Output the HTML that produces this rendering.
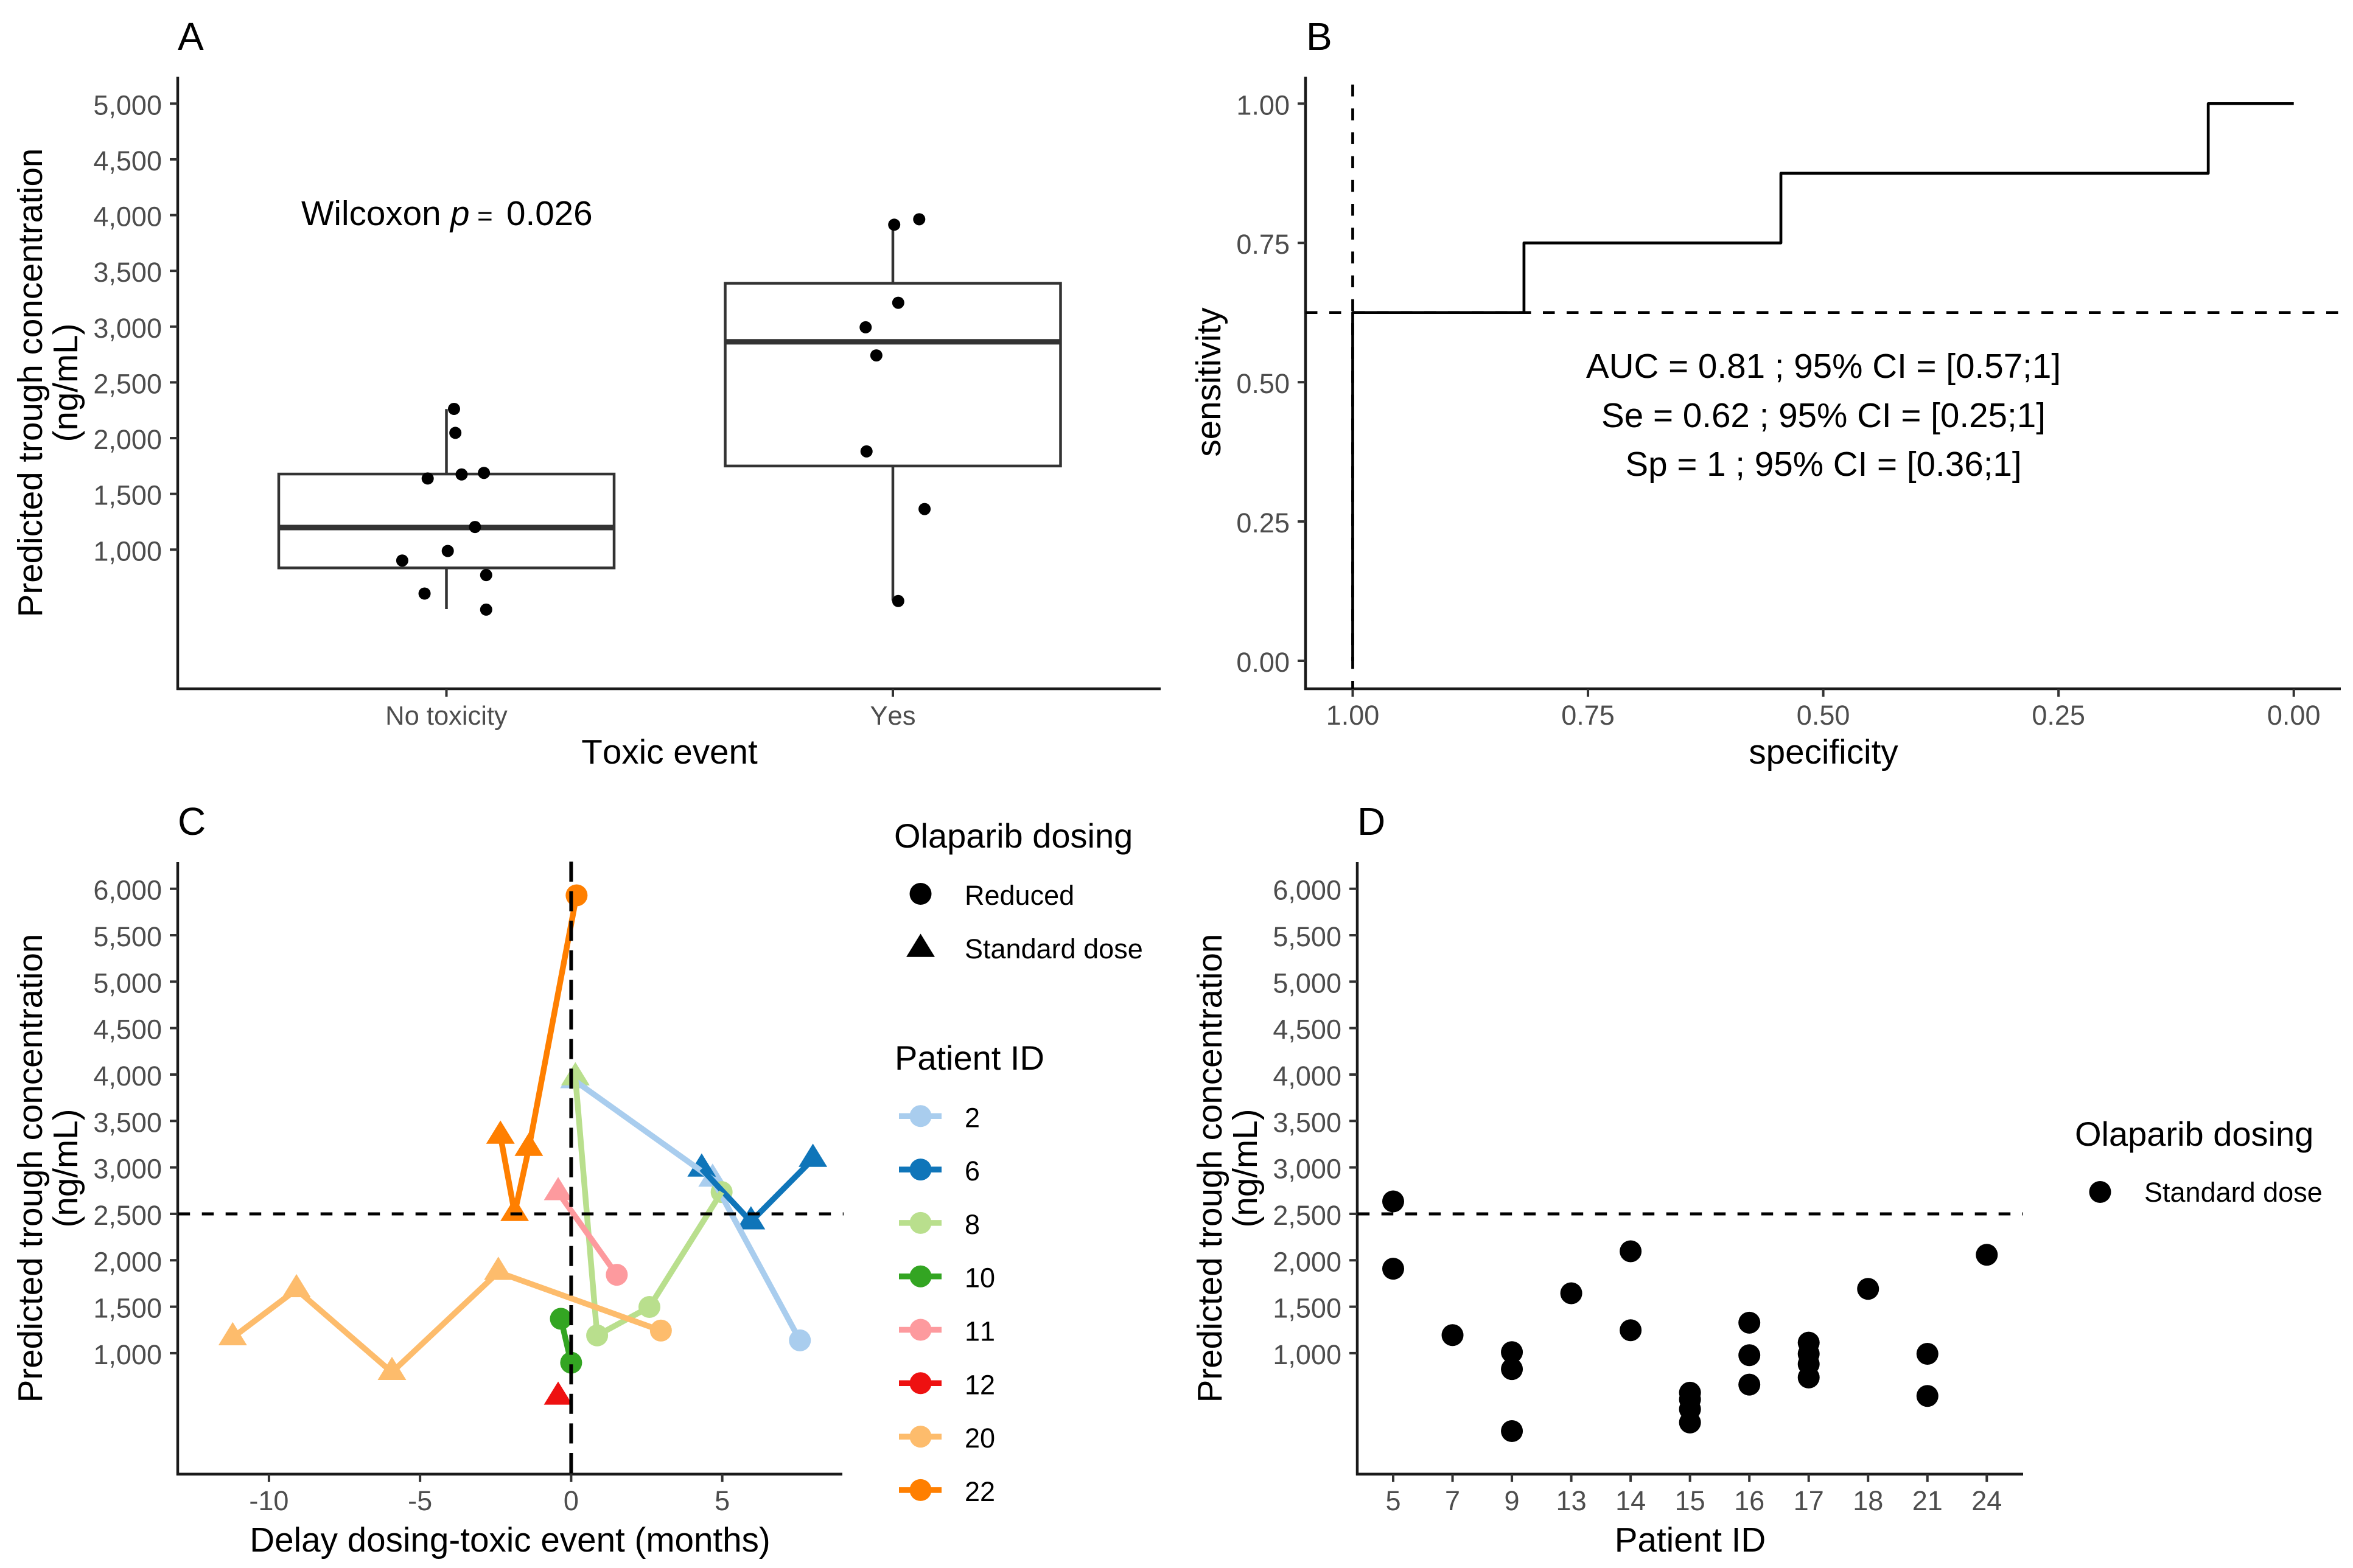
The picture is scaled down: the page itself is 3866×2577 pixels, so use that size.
<!DOCTYPE html>
<html lang="en">
<head>
<meta charset="utf-8">
<title>Olaparib trough concentration figure</title>
<style>
html,body{margin:0;padding:0;background:#fff;}
svg{display:block;font-family:"Liberation Sans",Arial,sans-serif;font-kerning:none;}
.tick{font-size:45px;fill:#4d4d4d;}
.tick-narrow{font-size:43.5px;fill:#4d4d4d;}
.title{font-size:56.6px;fill:#000;}
.legend-title{font-size:56px;fill:#000;}
.tag{font-size:64px;fill:#000;}
.leg{font-size:45px;fill:#000;}
</style>
</head>
<body>
<svg id="fig" xmlns="http://www.w3.org/2000/svg" width="3866" height="2577" viewBox="0 0 3866 2577">
<rect width="3866" height="2577" fill="#fff"/>
<g id="panelA"></g>
<g id="panelB"></g>
<g id="panelC"></g>
<g id="panelD"></g>

<text class="tag" x="292" y="82">A</text>
<text class="tag" x="2146" y="82">B</text>
<text class="tag" x="292" y="1372">C</text>
<text class="tag" x="2230" y="1372">D</text>

<text class="title" text-anchor="middle" transform="translate(69,629) rotate(-90)">Predicted trough concentration</text>
<text class="title" text-anchor="middle" transform="translate(127,629) rotate(-90)">(ng/mL)</text>
<text class="title" text-anchor="middle" x="1100" y="1255">Toxic event</text>
<text class="title" y="370"><tspan x="495">Wilcoxon</tspan><tspan x="740" font-style="italic">p</tspan><tspan x="784" font-size="44">=</tspan><tspan x="832">0.026</tspan></text>

<text class="title" text-anchor="middle" transform="translate(2005,628) rotate(-90)">sensitivity</text>
<text class="title" text-anchor="middle" x="2996" y="1255">specificity</text>
<text class="title" text-anchor="middle" x="2996" y="621">AUC = 0.81 ; 95% CI = [0.57;1]</text>
<text class="title" text-anchor="middle" x="2996" y="702">Se = 0.62 ; 95% CI = [0.25;1]</text>
<text class="title" text-anchor="middle" x="2996" y="782">Sp = 1 ; 95% CI = [0.36;1]</text>

<text class="title" text-anchor="middle" transform="translate(69,1920) rotate(-90)">Predicted trough concentration</text>
<text class="title" text-anchor="middle" transform="translate(127,1920) rotate(-90)">(ng/mL)</text>
<text class="title" text-anchor="middle" x="838" y="2550">Delay dosing-toxic event (months)</text>
<text class="legend-title" x="1469" y="1393">Olaparib dosing</text>
<text class="legend-title" x="1470" y="1758">Patient ID</text>
<text class="leg" x="1585" y="1487">Reduced</text>
<text class="leg" x="1585" y="1575">Standard dose</text>

<text class="title" text-anchor="middle" transform="translate(2007,1920) rotate(-90)">Predicted trough concentration</text>
<text class="title" text-anchor="middle" transform="translate(2065,1920) rotate(-90)">(ng/mL)</text>
<text class="title" text-anchor="middle" x="2777" y="2550">Patient ID</text>
<text class="legend-title" x="3409" y="1883">Olaparib dosing</text>
<text class="leg" x="3523" y="1975">Standard dose</text>
</svg>
<script>
// ---------- Panel A data ----------
var boxCategories = ["No toxicity", "Yes"];
var boxQ1 = [836, 1750];
var boxMedian = [1198, 2864];
var boxQ3 = [1678, 3389];
var whiskerLow = [467, 543];
var whiskerHigh = [2261, 3909];
var jitterNoTox = [0.017, 0.020, -0.042, 0.034, 0.084, 0.064, 0.003, -0.099, 0.089, -0.049, 0.089];
var valuesNoTox = [2262, 2047, 1638, 1674, 1688, 1203, 988, 902, 772, 606, 462];
var jitterYes = [0.003, 0.059, 0.012, -0.061, -0.037, -0.059, 0.071, 0.012];
var valuesYes = [3914, 3963, 3214, 2994, 2742, 1881, 1364, 539];
var tickValuesA = [1000, 1500, 2000, 2500, 3000, 3500, 4000, 4500, 5000];
var tickLabelsA = ["1,000", "1,500", "2,000", "2,500", "3,000", "3,500", "4,000", "4,500", "5,000"];

// ---------- Panel B data ----------
var rocSpecificity = [1, 1, 0.818, 0.818, 0.545, 0.545, 0.0909, 0.0909, 0];
var rocSensitivity = [0, 0.625, 0.625, 0.75, 0.75, 0.875, 0.875, 1, 1];
var cutoffSpecificity = 1;
var cutoffSensitivity = 0.625;
var tickValuesB = [0, 0.25, 0.5, 0.75, 1];
var tickLabelsB = ["0.00", "0.25", "0.50", "0.75", "1.00"];

// ---------- Panel C data ----------
var patientIds = ["2", "6", "8", "10", "11", "12", "20", "22"];
var patientColors = ["#a9cdee", "#0f75b9", "#b9df8d", "#33a522", "#fd9a9e", "#ee1111", "#fdbc6c", "#ff7f00"];
var monthsP2 = [0.11, 4.68, 7.57];
var troughP2 = [3936, 2875, 1138];
var doseP2 = ["S", "S", "R"];
var monthsP6 = [4.32, 5.95, 8.0];
var troughP6 = [2984, 2416, 3089];
var doseP6 = ["S", "S", "S"];
var monthsP8 = [0.14, 0.86, 2.59, 4.98];
var troughP8 = [3967, 1191, 1497, 2735];
var doseP8 = ["S", "R", "R", "R"];
var monthsP10 = [-0.34, 0];
var troughP10 = [1370, 897];
var doseP10 = ["R", "R"];
var monthsP11 = [-0.43, 1.51];
var troughP11 = [2730, 1844];
var doseP11 = ["S", "R"];
var monthsP12 = [-0.43];
var troughP12 = [528];
var doseP12 = ["S"];
var monthsP20 = [-11.2, -9.09, -5.93, -2.41, 2.97];
var troughP20 = [1168, 1685, 794, 1872, 1243];
var doseP20 = ["S", "S", "S", "S", "R"];
var monthsP22 = [-2.34, -1.87, -1.40, 0.18];
var troughP22 = [3338, 2506, 3207, 5929];
var doseP22 = ["S", "S", "S", "R"];
var tickValuesCx = [-10, -5, 0, 5];
var tickLabelsCx = ["-10", "-5", "0", "5"];
var tickValuesConc = [1000, 1500, 2000, 2500, 3000, 3500, 4000, 4500, 5000, 5500, 6000];
var tickLabelsConc = ["1,000", "1,500", "2,000", "2,500", "3,000", "3,500", "4,000", "4,500", "5,000", "5,500", "6,000"];
var thresholdConc = 2500;

// ---------- Panel D data ----------
var patientCategoriesD = ["5", "7", "9", "13", "14", "15", "16", "17", "18", "21", "24"];
var pointPatientD = ["5", "5", "7", "9", "9", "9", "13", "14", "14", "15", "15", "15", "15", "16", "16", "16", "17", "17", "17", "17", "18", "21", "21", "24"];
var pointValueD = [2634, 1909, 1194, 1011, 828, 161, 1645, 2097, 1247, 574, 502, 397, 253, 1328, 978, 661, 1113, 993, 882, 738, 1692, 993, 539, 2059];

// ---------- Scales ----------
function xA(c) { return 733.5 + c * 733.5; }
function yA(v) { return 170.3 + (5000 - v) * 0.18325; }
function xB(s) { return 2222.5 + (1 - s) * 1546.2; }
function yB(s) { return 1086 - s * 915.7; }
function xC(m) { return 938.4 + m * 49.65; }
function yConc(v) { return 1460.7 + (6000 - v) * 0.15264; }
function xD(i) { return 2289 + i * 97.53; }

// ---------- Drawing helpers (geometry only) ----------
var NS = "http://www.w3.org/2000/svg";
var AXIS = "#1a1a1a";
var TICK = "#333333";
function line(parent, x1, y1, x2, y2, stroke, w, dash) {
  var el = document.createElementNS(NS, "line");
  el.setAttribute("x1", x1); el.setAttribute("y1", y1);
  el.setAttribute("x2", x2); el.setAttribute("y2", y2);
  el.setAttribute("stroke", stroke); el.setAttribute("stroke-width", w);
  if (dash) el.setAttribute("stroke-dasharray", dash);
  parent.appendChild(el);
  return el;
}
function circle(parent, x, y, r, fill) {
  var el = document.createElementNS(NS, "circle");
  el.setAttribute("cx", x); el.setAttribute("cy", y);
  el.setAttribute("r", r); el.setAttribute("fill", fill);
  parent.appendChild(el);
  return el;
}
function triangle(parent, x, y, fill) {
  var el = document.createElementNS(NS, "polygon");
  el.setAttribute("points", (x - 23.5) + "," + (y + 12.7) + " " + (x + 23.5) + "," + (y + 12.7) + " " + x + "," + (y - 25.5));
  el.setAttribute("fill", fill);
  parent.appendChild(el);
  return el;
}
function label(parent, x, y, str, anchor, cls) {
  var el = document.createElementNS(NS, "text");
  el.setAttribute("x", x); el.setAttribute("y", y);
  el.setAttribute("text-anchor", anchor);
  el.setAttribute("class", cls);
  el.textContent = str;
  parent.appendChild(el);
  return el;
}
function polyline(parent, pts, stroke, w) {
  var el = document.createElementNS(NS, "polyline");
  el.setAttribute("points", pts.join(" "));
  el.setAttribute("fill", "none");
  el.setAttribute("stroke", stroke);
  el.setAttribute("stroke-width", w);
  el.setAttribute("stroke-linejoin", "round");
  parent.appendChild(el);
  return el;
}
function axisLines(parent, left, top, bottom, right) {
  var v = line(parent, left, top, left, bottom + 2, AXIS, 4.5);
  
  
  var h = line(parent, left - 2, bottom, right, bottom, AXIS, 4.5);
  
  
}
function yTicks(parent, left, values, labels, scale) {
  values.forEach(function (v, i) {
    var t = line(parent, left - 13, scale(v), left, scale(v), TICK, 4);
    
    
    var l = label(parent, left - 26, scale(v) + 18, labels[i], "end", "tick");
    
    
  });
}
function xTick(parent, x, bottom, text, baseline, cls) {
  var t = line(parent, x, bottom, x, bottom + 13, TICK, 4);
  
  
  var l = label(parent, x, baseline, text, "middle", cls || "tick");
  
  
}

// ---------- Panel A ----------
var pA = document.getElementById("panelA");
axisLines(pA, 292, 126, 1132, 1907);
yTicks(pA, 292, tickValuesA, tickLabelsA, yA);
boxCategories.forEach(function (name, i) {
  xTick(pA, xA(i), 1132, name, 1191, "tick-narrow");
  var cx = xA(i), hw = 275.5;
  var wt = line(pA, cx, yA(whiskerHigh[i]), cx, yA(boxQ3[i]), "#333", 4.5);
  
  
  var wb = line(pA, cx, yA(boxQ1[i]), cx, yA(whiskerLow[i]), "#333", 4.5);
  
  
  var r = document.createElementNS(NS, "rect");
  r.setAttribute("x", cx - hw);
  r.setAttribute("y", yA(boxQ3[i]));
  r.setAttribute("width", hw * 2);
  r.setAttribute("height", yA(boxQ1[i]) - yA(boxQ3[i]));
  r.setAttribute("fill", "none");
  r.setAttribute("stroke", "#333");
  r.setAttribute("stroke-width", 4.5);
  
  
  pA.appendChild(r);
  var m = line(pA, cx - hw, yA(boxMedian[i]), cx + hw, yA(boxMedian[i]), "#333", 9);
  
  
});
valuesNoTox.forEach(function (v, i) {
  var c = circle(pA, xA(0 + jitterNoTox[i]), yA(v), 10, "#000");
  
  
});
valuesYes.forEach(function (v, i) {
  var c = circle(pA, xA(1 + jitterYes[i]), yA(v), 10, "#000");
  
  
});

// ---------- Panel B ----------
var pB = document.getElementById("panelB");
axisLines(pB, 2145, 126, 1132, 3846);
yTicks(pB, 2145, tickValuesB, tickLabelsB, yB);
tickValuesB.forEach(function (s, i) {
  xTick(pB, xB(s), 1132, tickLabelsB[i], 1191);
});
var rocPts = rocSpecificity.map(function (s, i) { return xB(s) + "," + yB(rocSensitivity[i]); });
var roc = polyline(pB, rocPts, "#000", 4.7);


var bh = line(pB, 2145, yB(cutoffSensitivity), 3846, yB(cutoffSensitivity), "#000", 4.7, "19.5 19.5");


var bv = line(pB, xB(cutoffSpecificity), 139, xB(cutoffSpecificity), 1132, "#000", 4.7, "19.5 19.7");



// ---------- Panel C ----------
var pC = document.getElementById("panelC");
axisLines(pC, 292, 1417, 2422.7, 1384);
yTicks(pC, 292, tickValuesConc, tickLabelsConc, yConc);
tickValuesCx.forEach(function (m, i) {
  xTick(pC, xC(m), 2422.7, tickLabelsCx[i], 2482);
});
var seriesMonths = [monthsP2, monthsP6, monthsP8, monthsP10, monthsP11, monthsP12, monthsP20, monthsP22];
var seriesTrough = [troughP2, troughP6, troughP8, troughP10, troughP11, troughP12, troughP20, troughP22];
var seriesDose = [doseP2, doseP6, doseP8, doseP10, doseP11, doseP12, doseP20, doseP22];
seriesMonths.forEach(function (months, s) {
  months.forEach(function (m, i) {
    var mk;
    if (seriesDose[s][i] === "R") {
      mk = circle(pC, xC(m), yConc(seriesTrough[s][i]), 18, patientColors[s]);
    } else {
      mk = triangle(pC, xC(m), yConc(seriesTrough[s][i]), patientColors[s]);
    }
    
    
  });
});
seriesMonths.forEach(function (months, s) {
  if (months.length < 2) return;
  var pts = months.map(function (m, i) { return xC(m) + "," + yConc(seriesTrough[s][i]); });
  var pl = polyline(pC, pts, patientColors[s], 9.5);
  
  
});
var ch = line(pC, 292.7, yConc(thresholdConc), 1386, yConc(thresholdConc), "#000", 5, "19.5 19.5");


var cv = line(pC, xC(0), 1416, xC(0), 2428, "#000", 6, "33 15.6");



// Panel C legends
var lr = circle(pC, 1512.5, 1469, 18, "#000");


var ls = triangle(pC, 1512.5, 1560, "#000");


patientIds.forEach(function (id, i) {
  var y = 1834.3 + i * 87.8;
  var kl = line(pC, 1477, y, 1547, y, patientColors[i], 9.5);
  
  
  var kc = circle(pC, 1512.5, y, 18, patientColors[i]);
  
  
  var kt = label(pC, 1585, y + 18, id, "start", "leg");
  
  
});

// ---------- Panel D ----------
var pD = document.getElementById("panelD");
axisLines(pD, 2230, 1417, 2422.7, 3324);
yTicks(pD, 2230, tickValuesConc, tickLabelsConc, yConc);
patientCategoriesD.forEach(function (id, i) {
  xTick(pD, xD(i), 2422.7, id, 2482);
});
pointValueD.forEach(function (v, i) {
  var c = circle(pD, xD(patientCategoriesD.indexOf(pointPatientD[i])), yConc(v), 18, "#000");
  
  
});
var dh = line(pD, 2230.7, yConc(thresholdConc), 3324, yConc(thresholdConc), "#000", 5, "19.5 19.5");


var dl = circle(pD, 3450.5, 1959, 18, "#000");


</script>
</body>
</html>
